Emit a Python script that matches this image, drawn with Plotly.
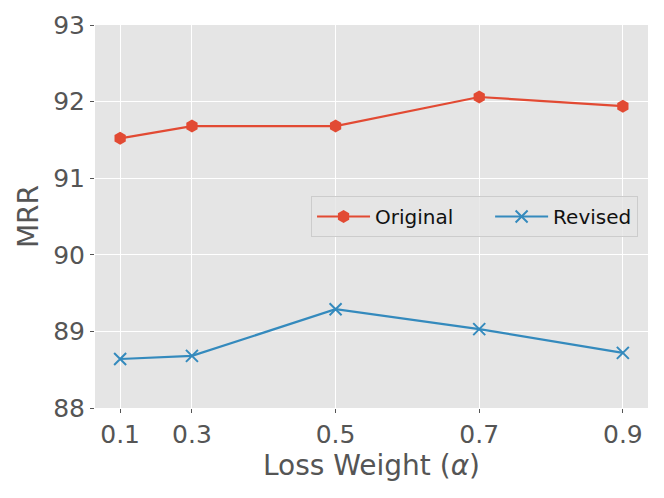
import plotly.graph_objects as go

# Tick labels and the uneven axis positions they sit at
x_labels = ["0.1", "0.3", "0.5", "0.7", "0.9"]
x_pos = [0.2, 0.3, 0.5, 0.7, 0.9]

original = [91.52, 91.68, 91.68, 92.06, 91.94]
revised = [88.64, 88.68, 89.29, 89.03, 88.72]

RED = "#E24A33"
BLUE = "#348ABD"
FONT = "DejaVu Sans"
NBSP = "\u00a0"

fig = go.Figure()
fig.add_trace(go.Scatter(
    x=x_pos, y=original, name="Original" + NBSP * 5, mode="lines+markers",
    line=dict(color=RED, width=2.2),
    marker=dict(symbol="hexagon", size=13, color=RED),
))
fig.add_trace(go.Scatter(
    x=x_pos, y=revised, name="Revised", mode="lines+markers",
    line=dict(color=BLUE, width=2.2),
    marker=dict(symbol="x-thin-open", size=12, color=BLUE,
                line=dict(color=BLUE, width=2)),
))

fig.update_layout(
    width=664, height=498,
    margin=dict(l=95, r=16, t=25, b=90, autoexpand=False),
    paper_bgcolor="white",
    plot_bgcolor="#E5E5E5",
    font=dict(family=FONT, color="#555555"),
    showlegend=True,
    legend=dict(
        orientation="h",
        x=0.982, xanchor="right", y=0.5, yanchor="middle",
        bgcolor="rgba(229,229,229,0.8)",
        bordercolor="#CCCCCC", borderwidth=1,
        font=dict(family=FONT, size=20, color="#111111"),
        itemwidth=53,
    ),
)
fig.update_xaxes(
    range=[0.165, 0.935], automargin=False,
    tickmode="array", tickvals=x_pos, ticktext=x_labels,
    showgrid=True, gridcolor="white", gridwidth=1.4,
    zeroline=False, showline=False,
    ticks="outside", ticklen=4, tickcolor="#555555", tickwidth=1,
    tickfont=dict(family=FONT, size=25, color="#555555"),
    title=dict(text="Loss Weight (<i>α</i>)", standoff=0,
               font=dict(family=FONT, size=28, color="#555555")),
)
fig.update_yaxes(
    range=[88, 93], automargin=False,
    tickmode="array", tickvals=[88, 89, 90, 91, 92, 93],
    showgrid=True, gridcolor="white", gridwidth=1.4,
    zeroline=False, showline=False,
    ticks="outside", ticklen=4, tickcolor="#555555", tickwidth=1,
    tickfont=dict(family=FONT, size=25, color="#555555"),
    title=dict(text="MRR", standoff=6,
               font=dict(family=FONT, size=28, color="#555555")),
)

fig.write_html("out.html", config={"displayModeBar": False},
               post_script="document.body.style.margin='0';")
